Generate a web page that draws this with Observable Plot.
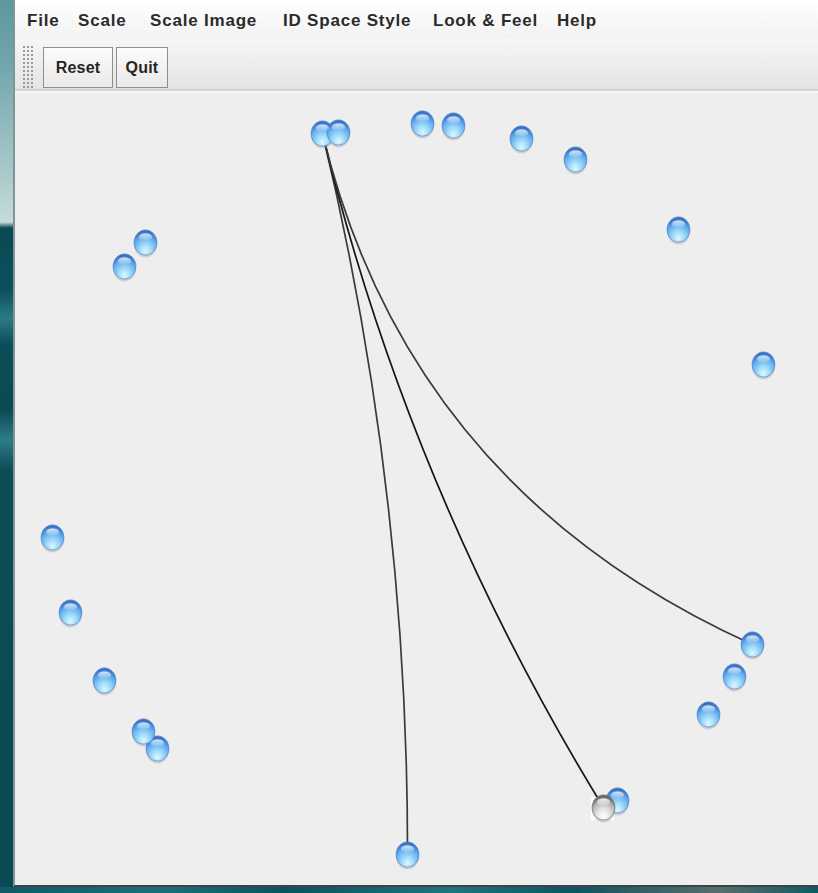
<!DOCTYPE html>
<html><head><meta charset="utf-8">
<script src="https://cdn.jsdelivr.net/npm/d3@7"></script>
<script src="https://cdn.jsdelivr.net/npm/@observablehq/plot@0.6"></script>
<style>
html,body{margin:0;padding:0;}
body{width:818px;height:893px;overflow:hidden;position:relative;background:#0d4f5a;font-family:"Liberation Sans",Arial,sans-serif;}
#strip{position:absolute;left:0;top:0;width:13px;height:893px;
 background:linear-gradient(to bottom,#5d979e 0px,#6fa5ab 60px,#a7c8ca 170px,#c6dbdb 222px,#0a4953 228px,#0c505b 290px,#2a7b86 318px,#0c4d58 345px,#0b4a55 410px,#2d7c87 440px,#0c4c57 470px,#0b4a55 893px);}
#bottom{position:absolute;left:0;top:887px;width:818px;height:6px;
 background:linear-gradient(to right,#0f5b66,#1c6f79 20%,#0c525d 35%,#1f7480 55%,#0d5560 70%,#5a6d6e 88%,#0e5a64);}
#win{position:absolute;left:13px;top:0;width:805px;height:887px;background:#eeeeee;border-left:2px solid #7f9494;box-sizing:border-box;border-bottom:2px solid #3a4446;}
#menubar{position:absolute;left:15px;top:0;width:803px;height:38px;background:linear-gradient(#ffffff,#f2f2f2);}
.menu{position:absolute;top:11px;font-size:17px;font-weight:bold;color:#2b2b2b;letter-spacing:0.8px;white-space:nowrap;}
#toolbar{position:absolute;left:15px;top:38px;width:803px;height:51px;background:linear-gradient(#f6f6f6,#e4e4e4);}
#sep{position:absolute;left:15px;top:89px;width:803px;height:4px;background:linear-gradient(#d3d3d3 0 2px,#f7f7f7 2px 4px);}
#grip{position:absolute;left:22px;top:45px;width:13px;height:44px;
 background-image:radial-gradient(circle,#9a9a9a 0.8px,transparent 1.1px);background-size:4px 4px;}
.btn{position:absolute;top:47px;height:41px;box-sizing:border-box;border:1px solid #8e8e8e;
 background:linear-gradient(#fbfbfb,#e9e9e9);font-size:16px;font-weight:bold;color:#262626;
 display:flex;align-items:center;justify-content:center;letter-spacing:0.2px;}
#canvas{position:absolute;left:14px;top:93px;}
</style></head>
<body>
<div id="strip"></div>
<div id="bottom"></div>
<div id="win"></div>
<div id="menubar"></div>
<div id="toolbar"></div>
<div id="sep"></div>
<div id="grip"></div>
<div id="menus"></div>
<div id="buttons"></div>
<div id="canvas"></div>
<script>
// ---- data ----
const menuLabels = ["File", "Scale", "Scale Image", "ID Space Style", "Look & Feel", "Help"];
const buttonLabels = ["Reset", "Quit"];

// node centres in picture pixels (drawing order: later ones on top)
const nodeX = [322, 338, 422, 453, 521, 575, 678, 763, 752, 734, 708, 617, 603, 407, 157, 143, 104, 70, 52, 145, 124];
const nodeY = [133, 132, 123, 125, 138, 159, 229, 364, 644, 676, 714, 800, 807, 854, 748, 731, 680, 612, 537, 242, 266];
const nodeSelected = [false,false,false,false,false,false,false,false,false,false,false,false,true,false,false,false,false,false,false,false,false];

// links: source node index -> target node index
const linkSource = [0, 0, 0];
const linkTarget = [13, 12, 8];

// ---- layout of the chrome ----
const menuLeft = [27, 78, 150, 283, 433, 557];
const buttonLeft = [43, 116], buttonWidth = [70, 52];
const menus = d3.select("#menus");
menuLabels.forEach((t, i) => menus.append("div").attr("class", "menu").style("left", menuLeft[i] + "px").text(t));
const buttons = d3.select("#buttons");
buttonLabels.forEach((t, i) => buttons.append("div").attr("class", "btn")
  .style("left", buttonLeft[i] + "px").style("width", buttonWidth[i] + "px").text(t));

// ---- chart ----
const nodes = nodeX.map((x, i) => ({x, y: nodeY[i], selected: nodeSelected[i]}));
const cx = (d3.min(nodeX) + d3.max(nodeX)) / 2;
const cy = (d3.min(nodeY) + d3.max(nodeY)) / 2;
const linkPts = [];
linkSource.forEach((s, i) => {
  const t = linkTarget[i];
  linkPts.push({id: i, x: nodeX[s], y: nodeY[s]});
  linkPts.push({id: i, x: cx, y: cy});
  linkPts.push({id: i, x: nodeX[t], y: nodeY[t]});
});

// quadratic curve: first point, control point, last point
function quadCurve(context) {
  let pts = [];
  return {
    areaStart() {}, areaEnd() {},
    lineStart() { pts = []; },
    point(x, y) { pts.push([+x, +y]); },
    lineEnd() {
      if (pts.length === 3) {
        context.moveTo(pts[0][0], pts[0][1]);
        context.quadraticCurveTo(pts[1][0], pts[1][1], pts[2][0], pts[2][1]);
      } else if (pts.length) {
        context.moveTo(pts[0][0], pts[0][1]);
        for (const p of pts.slice(1)) context.lineTo(p[0], p[1]);
      }
    }
  };
}

const ellipse = (sx, sy) => ({
  draw(ctx, size) {
    const r = Math.sqrt(size / Math.PI), a = r * sx, b = r * sy, k = 0.5523;
    ctx.moveTo(a, 0);
    ctx.bezierCurveTo(a, b * k, a * k, b, 0, b);
    ctx.bezierCurveTo(-a * k, b, -a, b * k, -a, 0);
    ctx.bezierCurveTo(-a, -b * k, -a * k, -b, 0, -b);
    ctx.bezierCurveTo(a * k, -b, a, -b * k, a, 0);
    ctx.closePath();
  }
});

const W = 804, H = 794;
const chart = Plot.plot({
  width: W, height: H, margin: 0,
  x: {domain: [14, 14 + W], range: [0, W], axis: null},
  y: {domain: [93, 93 + H], range: [0, H], axis: null},
  style: {background: "transparent", overflow: "visible"},
  marks: [
    Plot.line(linkPts, {x: "x", y: "y", z: "id", curve: quadCurve,
      stroke: d => d.id === 1 ? "#151515" : "#3a3a3a", strokeWidth: 1.7}),
    Plot.dot(nodes.filter(d => d.selected), {x: "x", y: "y", symbol: "square", r: 13, dx: -1, dy: 1, fill: "#ffffff", stroke: "none"}),
    Plot.dot(nodes, {x: "x", y: "y", dy: 2.5, r: 12, symbol: ellipse(0.95, 1.05), fill: "#9a9a9a", fillOpacity: 0.35, stroke: "none"}),
    Plot.dot(nodes, {x: "x", y: "y", r: 12, symbol: ellipse(0.95, 1.05),
      fill: d => d.selected ? "url(#gradGrey)" : "url(#gradBlue)",
      stroke: d => d.selected ? "#6f6f6f" : "#4a80cc", strokeWidth: 0.7}),
    Plot.dot(nodes, {x: "x", y: "y", dy: -5.5, r: 6, symbol: ellipse(1.1, 0.6),
      fill: d => d.selected ? "url(#hiGrey)" : "url(#hiBlue)", stroke: "none"})
  ]
});
d3.select(chart).insert("defs", ":first-child").html(`
  <radialGradient id="gradBlue" cx="50%" cy="78%" r="72%" fx="50%" fy="86%">
    <stop offset="0" stop-color="#dcf8ff"/>
    <stop offset="0.38" stop-color="#9ad8f9"/>
    <stop offset="0.74" stop-color="#62aaec"/>
    <stop offset="1" stop-color="#3670c6"/>
  </radialGradient>
  <radialGradient id="gradGrey" cx="50%" cy="78%" r="70%" fx="50%" fy="85%">
    <stop offset="0" stop-color="#ffffff"/>
    <stop offset="0.4" stop-color="#e2e2e2"/>
    <stop offset="0.75" stop-color="#b5b5b5"/>
    <stop offset="1" stop-color="#6a6a6a"/>
  </radialGradient>
  <linearGradient id="hiBlue" x1="0" y1="0" x2="0" y2="1">
    <stop offset="0" stop-color="#ffffff" stop-opacity="0.8"/>
    <stop offset="1" stop-color="#ffffff" stop-opacity="0.05"/>
  </linearGradient>
  <linearGradient id="hiGrey" x1="0" y1="0" x2="0" y2="1">
    <stop offset="0" stop-color="#ffffff" stop-opacity="0.9"/>
    <stop offset="1" stop-color="#ffffff" stop-opacity="0.1"/>
  </linearGradient>`);
document.getElementById("canvas").appendChild(chart);
</script>
</body></html>
